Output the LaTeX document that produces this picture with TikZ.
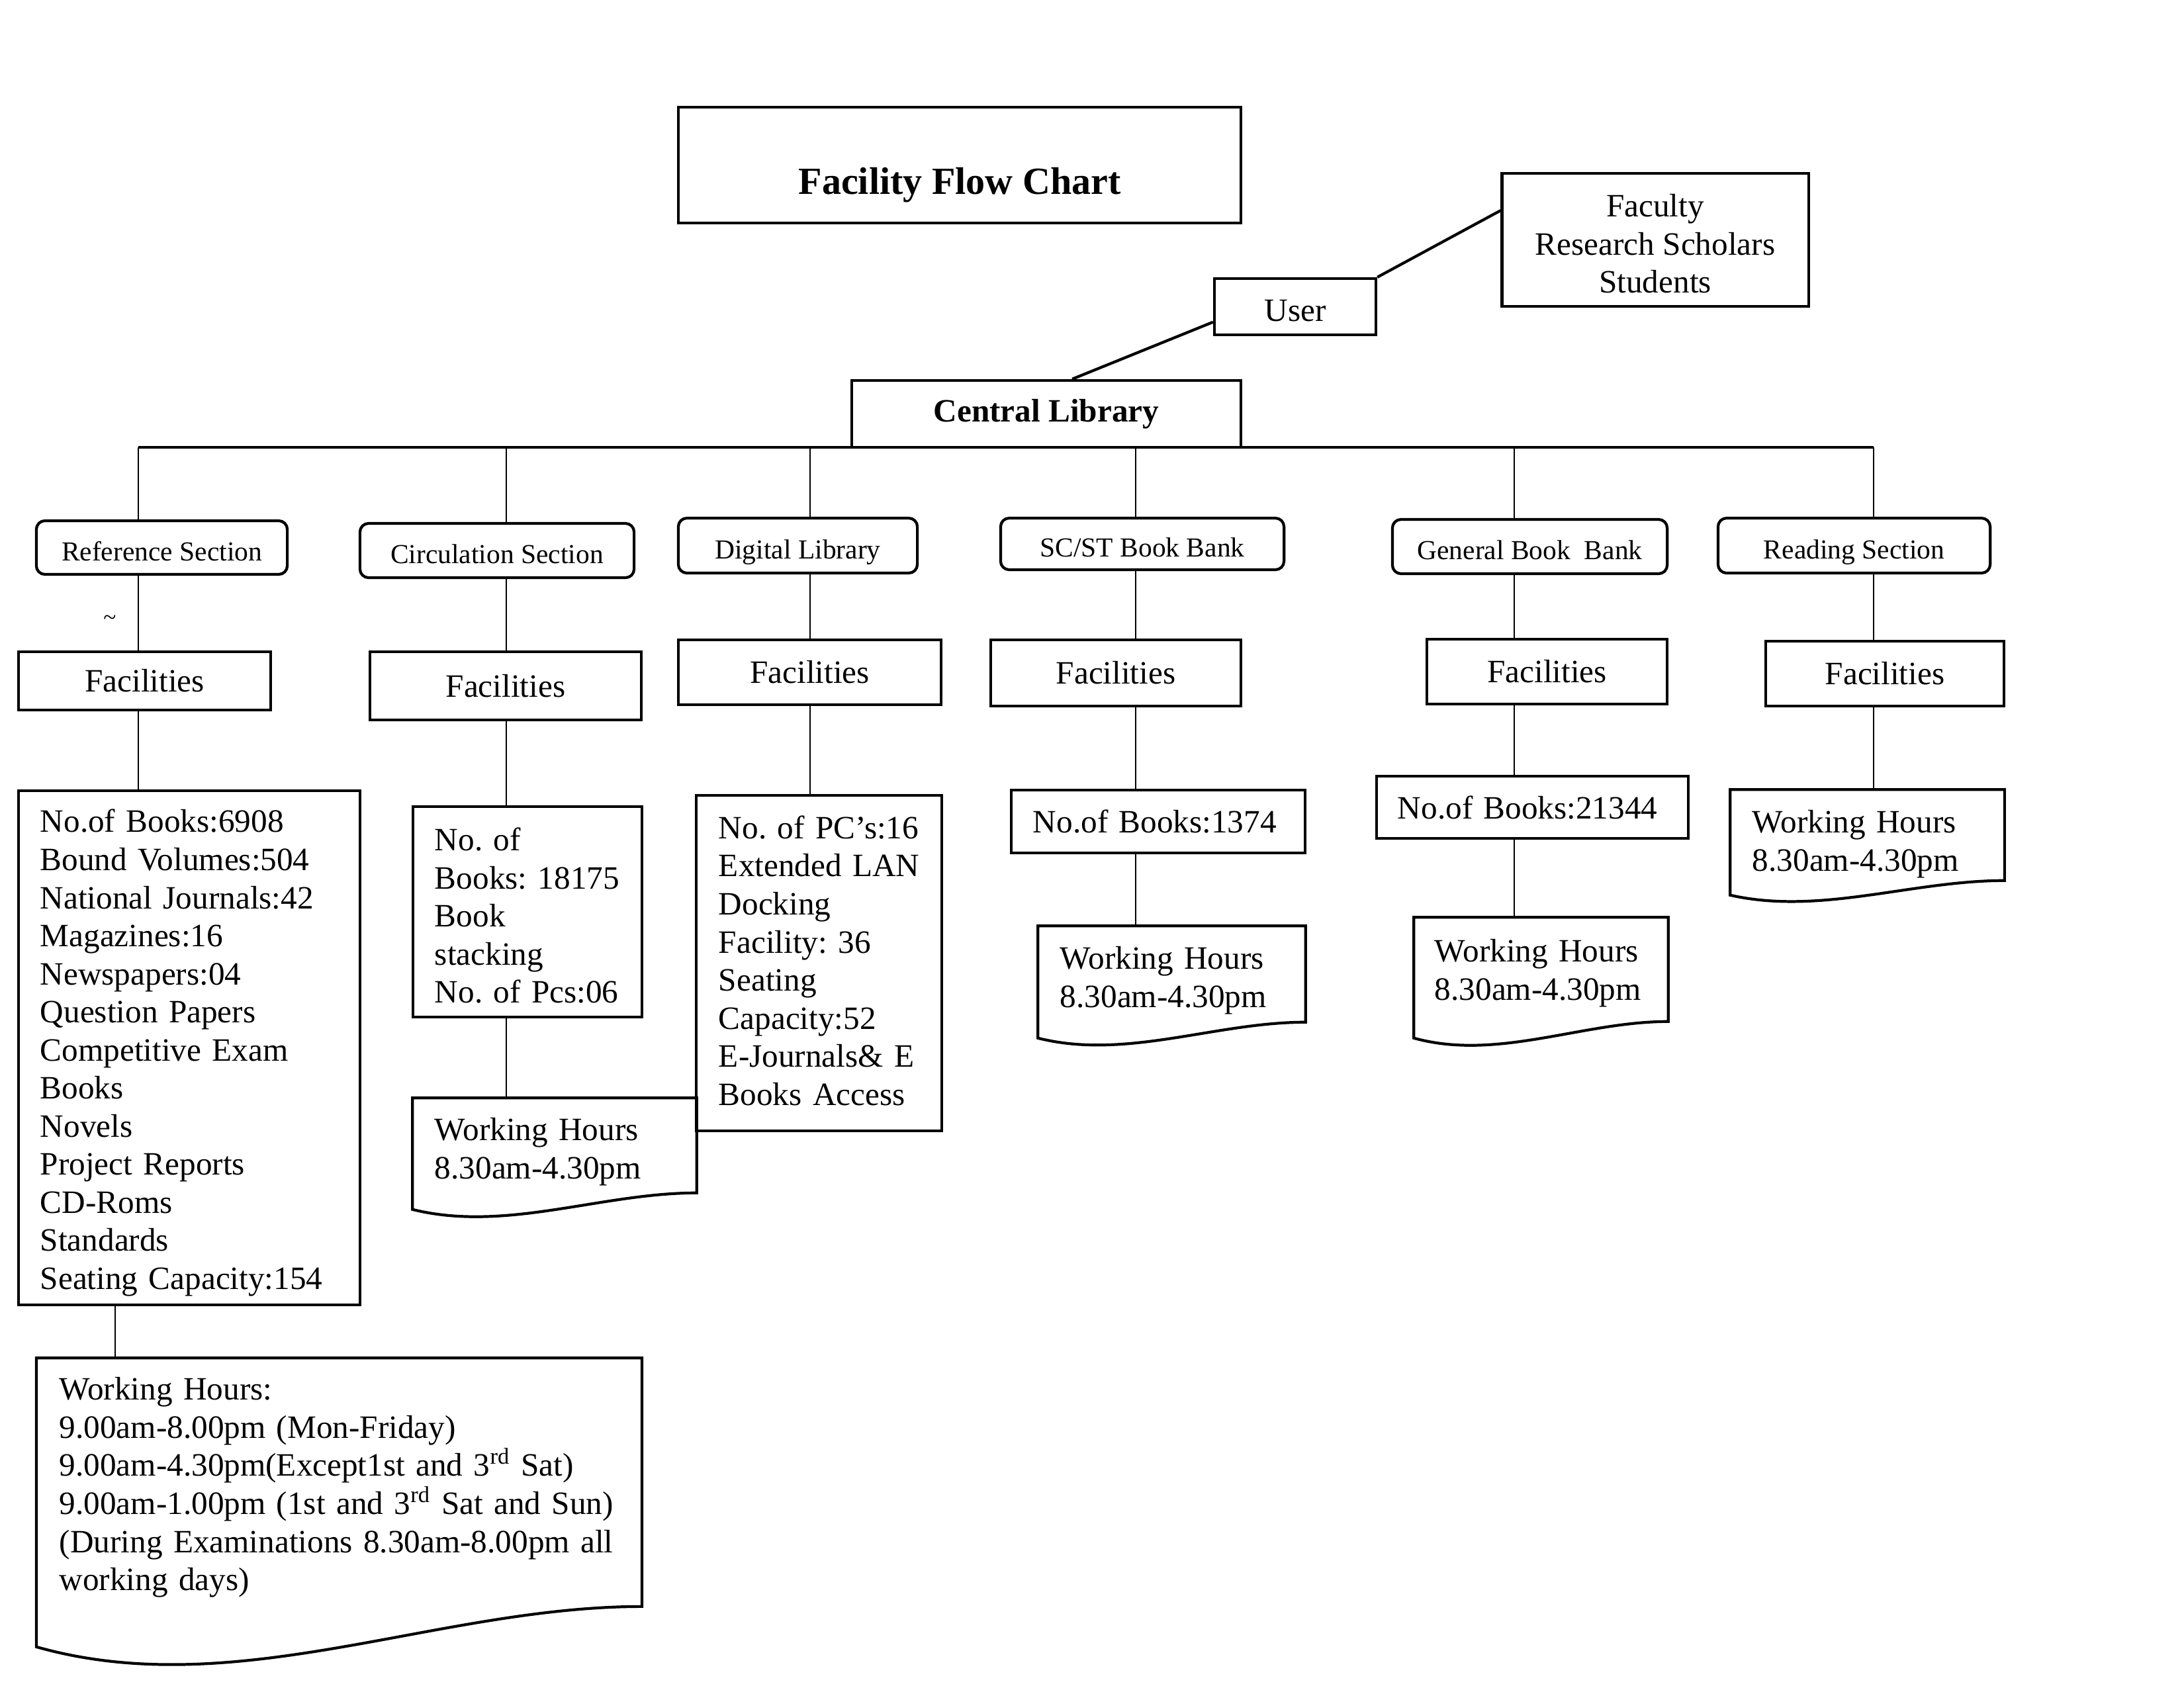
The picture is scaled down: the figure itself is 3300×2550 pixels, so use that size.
\documentclass[tikz,border=0pt]{standalone}
\usepackage{fontspec}
\setmainfont{Liberation Serif}
\usetikzlibrary{calc}
\frenchspacing
\newcommand{\docshape}[3]{%
  \draw[boxline] (#1.north west) -- ($(#1.south west)+(0,#3)$)
    .. controls +({0.33*#2},{1.4*#3}) and +({-0.34*#2},0) .. (#1.south east)
    -- (#1.north east) -- cycle;}
\newcommand{\topstrut}[1]{\rule{0pt}{#1}}
\newcommand{\botstrut}[1]{\rule[-#1]{0pt}{0pt}}
\tikzset{
  boxline/.style={draw=black, line width=1.2pt},
  conn/.style={draw=black, line width=0.7pt},
  plainbox/.style={boxline, rectangle, inner sep=0pt, align=center,
    font=\fontsize{14}{16.36}\selectfont},
  secbox/.style={boxline, rectangle, rounded corners=0.13cm, inner sep=0pt,
    text height=11.5pt, text depth=0.4pt,
    font=\fontsize{11.8}{14}\selectfont},
  listbox/.style={boxline, rectangle, inner ysep=0pt, align=left,
    font=\fontsize{14}{16.36}\selectfont},
  docbox/.style={rectangle, inner ysep=0pt, align=left,
    font=\fontsize{14}{16.36}\selectfont},
}
\begin{document}
\begin{tikzpicture}[x=0.01cm, y=-0.01cm]
\useasboundingbox (0,0) rectangle (3300,2550);

% top
\node[plainbox, minimum width=8.5cm, minimum height=1.75cm] (titlebox) at (1450,249.5) {};
\node[inner sep=0pt, font=\bfseries\fontsize{16.5}{19}\selectfont] (titletext) at (1450,280) {Facility Flow Chart};
\node[plainbox, minimum width=4.63cm, minimum height=2.01cm] (users) at (2501,362.5) {\topstrut{13pt}Faculty\\Research Scholars\\Students};
\node[plainbox, text height=12.7pt, text depth=0pt, minimum width=2.44cm, minimum height=0.85cm] (user) at (1957,463.5) {User};
\node[plainbox, font=\bfseries\fontsize{14}{16.36}\selectfont, minimum width=5.88cm, minimum height=1.01cm] (cl) at (1581,625.5) {Central Library};

\draw[boxline] ($(user.north west)!0.76!(user.south west)$) -- ($(cl.north west)!0.566!(cl.north east)$);
\draw[boxline] (user.north east) -- ($(users.north west)!0.284!(users.south west)$);

% section boxes
\node[secbox, minimum width=3.79cm, minimum height=0.81cm] (refsec) at (244.5,827.5) {Reference Section};
\node[secbox, minimum width=4.14cm, minimum height=0.82cm] (circsec) at (751,832) {Circulation Section};
\node[secbox, minimum width=3.61cm, minimum height=0.83cm] (digsec) at (1205.5,824.5) {Digital Library};
\node[secbox, minimum width=4.28cm, minimum height=0.78cm] (scsec) at (1726,822) {SC/ST Book Bank};
\node[secbox, minimum width=4.15cm, minimum height=0.82cm] (gensec) at (2311.5,826) {General Book\ \ Bank};
\node[secbox, minimum width=4.11cm, minimum height=0.83cm] (readsec) at (2801.5,824.5) {Reading Section};

\node[inner sep=0pt, font=\fontsize{10}{11}\selectfont] (mark) at (166,937) {\textasciitilde};

% facilities boxes
\node[plainbox, minimum width=3.81cm, minimum height=0.88cm] (reffac) at (218.5,1029) {Facilities};
\node[plainbox, minimum width=4.10cm, minimum height=1.03cm] (circfac) at (764,1036.5) {Facilities};
\node[plainbox, minimum width=3.97cm, minimum height=0.98cm] (digfac) at (1223.5,1016) {Facilities};
\node[plainbox, minimum width=3.78cm, minimum height=1.00cm] (scfac) at (1686,1017) {Facilities};
\node[plainbox, minimum width=3.63cm, minimum height=0.98cm] (genfac) at (2337.5,1015) {Facilities};
\node[plainbox, minimum width=3.60cm, minimum height=0.98cm] (readfac) at (2848,1018) {Facilities};

% detail boxes
\node[listbox, inner xsep=0.33cm, text width=4.5cm, minimum height=7.77cm] (refdet) at (286,1583.5)
 {\topstrut{14.2pt}\mbox{No.of Books:6908}\\\mbox{Bound Volumes:504}\\\mbox{National Journals:42}\\Magazines:16\\Newspapers:04\\\mbox{Question Papers}\\\mbox{Competitive Exam}\\Books\\Novels\\\mbox{Project Reports}\\CD-Roms\\Standards\\\mbox{Seating Capacity:154}};
\node[listbox, inner xsep=0.33cm, text width=2.8cm, minimum height=3.18cm] (circdet) at (797,1378)
 {\topstrut{13pt}No. of\\\mbox{Books: 18175}\\Book\\stacking\\\mbox{No. of Pcs:06}};
\node[listbox, inner xsep=0.34cm, text width=3.03cm, minimum height=5.07cm] (digdet) at (1237.5,1455.5)
 {\mbox{No. of PC’s:16}\\\mbox{Extended LAN}\\Docking\\\mbox{Facility: 36}\\Seating\\\mbox{Capacity:52}\\\mbox{E-Journals\& E}\\\mbox{Books Access}\botstrut{2.3pt}};
\node[listbox, inner xsep=0.33cm, text width=3.78cm, minimum height=0.95cm] (scdet) at (1750,1241.5) {\mbox{No.of Books:1374}};
\node[listbox, inner xsep=0.32cm, text width=4.07cm, minimum height=0.94cm] (gendet) at (2315.5,1220) {\mbox{No.of Books:21344}};

% document-shaped boxes
\node[docbox, inner xsep=0.34cm, text width=8.45cm, minimum height=3.74cm] (refwh) at (512.5,2240)
 {\topstrut{14.2pt}\mbox{Working Hours:}\\\mbox{9.00am-8.00pm (Mon-Friday)}\\\mbox{9.00am-4.30pm(Except1st and 3\textsuperscript{rd} Sat)}\\\mbox{9.00am-1.00pm (1st and 3\textsuperscript{rd} Sat and Sun)}\\\mbox{(During Examinations 8.30am-8.00pm all}\\\mbox{working days)}};
\docshape{refwh}{913}{61}
\node[docbox, inner xsep=0.33cm, text width=3.62cm, minimum height=1.42cm] (circwh) at (838,1731)
 {\topstrut{15.3pt}\mbox{Working Hours}\\\mbox{8.30am-4.30pm}};
\docshape{circwh}{428}{25}
\node[docbox, inner xsep=0.33cm, text width=3.37cm, minimum height=1.44cm] (scwh) at (1770.5,1472)
 {\topstrut{15.3pt}\mbox{Working Hours}\\\mbox{8.30am-4.30pm}};
\docshape{scwh}{403}{24}
\node[docbox, inner xsep=0.31cm, text width=3.21cm, minimum height=1.56cm] (genwh) at (2328.5,1465)
 {\topstrut{13pt}\mbox{Working Hours}\\\mbox{8.30am-4.30pm}};
\docshape{genwh}{383}{25}
\node[docbox, inner xsep=0.33cm, text width=3.47cm, minimum height=1.36cm] (readwh) at (2821.5,1262)
 {\topstrut{17.6pt}\mbox{Working Hours}\\\mbox{8.30am-4.30pm}};
\docshape{readwh}{413}{22}

% column coordinates on the bus
\coordinate (bA) at (209,676);
\coordinate (bB) at (765,676);
\coordinate (bC) at (1224,676);
\coordinate (bD) at (1716,676);
\coordinate (bE) at (2288,676);
\coordinate (bF) at (2831,676);
\coordinate (xA2) at (174,1972);

% bus
\draw[boxline] (bA) -- (bF);

% column A
\draw[conn] (bA) -- (bA |- refsec.north);
\draw[conn] (bA |- refsec.south) -- (bA |- reffac.north);
\draw[conn] (bA |- reffac.south) -- (bA |- refdet.north);
\draw[conn] (refdet.south -| xA2) -- (refwh.north -| xA2);
% column B
\draw[conn] (bB) -- (bB |- circsec.north);
\draw[conn] (bB |- circsec.south) -- (bB |- circfac.north);
\draw[conn] (bB |- circfac.south) -- (bB |- circdet.north);
\draw[conn] (bB |- circdet.south) -- (bB |- circwh.north);
% column C
\draw[conn] (bC) -- (bC |- digsec.north);
\draw[conn] (bC |- digsec.south) -- (bC |- digfac.north);
\draw[conn] (bC |- digfac.south) -- (bC |- digdet.north);
% column D
\draw[conn] (bD) -- (bD |- scsec.north);
\draw[conn] (bD |- scsec.south) -- (bD |- scfac.north);
\draw[conn] (bD |- scfac.south) -- (bD |- scdet.north);
\draw[conn] (bD |- scdet.south) -- (bD |- scwh.north);
% column E
\draw[conn] (bE) -- (bE |- gensec.north);
\draw[conn] (bE |- gensec.south) -- (bE |- genfac.north);
\draw[conn] (bE |- genfac.south) -- (bE |- gendet.north);
\draw[conn] (bE |- gendet.south) -- (bE |- genwh.north);
% column F
\draw[conn] (bF) -- (bF |- readsec.north);
\draw[conn] (bF |- readsec.south) -- (bF |- readfac.north);
\draw[conn] (bF |- readfac.south) -- (bF |- readwh.north);
\end{tikzpicture}
\end{document}
